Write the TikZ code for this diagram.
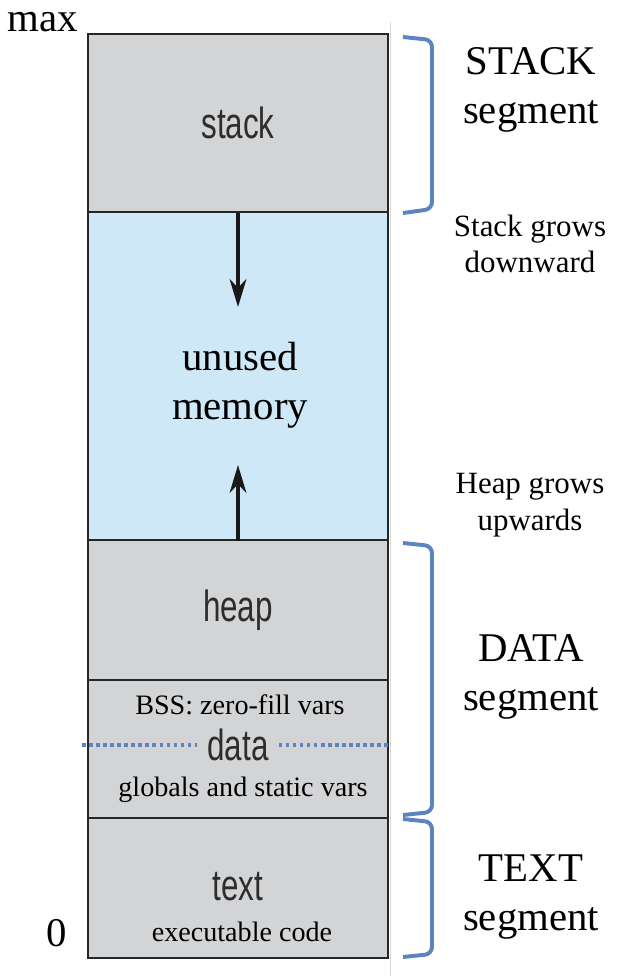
\documentclass[tikz,border=0pt]{standalone}
\usepackage{fontspec}
\setmainfont{Liberation Serif}
\newfontfamily\boxfont[FakeStretch=0.72]{Liberation Sans}
\usetikzlibrary{arrows.meta, positioning, calc}
\definecolor{cSegGray}{RGB}{211,212,214}
\definecolor{cUnused}{RGB}{207,232,247}
\definecolor{cBrace}{RGB}{92,132,192}
\definecolor{cLabel}{RGB}{45,45,45}
\tikzset{
	region/.style   ={rectangle, draw=black!85, line width=1.4pt, minimum width=7.5cm, inner sep=0pt, fill=cSegGray},
	boxlbl/.style   ={font=\boxfont\fontsize{31}{36}\selectfont, text=cLabel},
	notelbl/.style  ={font=\fontsize{20}{24}\selectfont, inner sep=0pt},
	seglbl/.style   ={font=\fontsize{29}{35}\selectfont, align=center, inner sep=0pt},
	growlbl/.style  ={font=\fontsize{22}{26}\selectfont, align=center, inner sep=0pt},
	growarrow/.style={-{Stealth[length=7mm, width=4.2mm, inset=2.2mm]}, line width=2.4pt, black!90},
	% segment brackets on the right
	segbrace/.style ={cBrace, line width=2.8pt, rounded corners=5pt},
	bssline/.style  ={cBrace, line width=2.2pt, dash pattern=on 2.5pt off 2.5pt},
}

\begin{document}
\begin{tikzpicture}[x=0.025cm, y=-0.025cm]
	\useasboundingbox (0,0) rectangle (620,976);
	\draw[black!15, line width=0.6pt] (390,22) -- (390,976);
	% memory regions, top to bottom
	\node[region, minimum height=4.45cm, boxlbl] (stack) at (238,123) {stack};
	\node[region, minimum height=8.2cm, fill=cUnused] (unused) at (238,376) {};
	\node[region, minimum height=3.5cm, boxlbl] (heap) at (238,610) {heap};
	\node[region, minimum height=3.45cm] (data) at (238,749) {};
	\node[region, minimum height=3.5cm] (text) at (238,888) {};
	\node[seglbl] (unusedlbl) at (240,385) {unused\\memory};
	% data region texts
	\node[notelbl] (bsslbl) at (240,705) {BSS: zero-fill vars};
	\node[boxlbl, inner xsep=0.25cm, inner ysep=0pt] (datalbl) at (238,745) {data};
	\node[notelbl] (globlbl) at (243,790) {globals and static vars};
	\draw[bssline] ([xshift=-0.12cm]data.west |- datalbl) -- (datalbl.west);
	\draw[bssline] (datalbl.east) -- (data.east |- datalbl);
	% text region texts
	\node[boxlbl, inner sep=0pt] (textlbl) at (238,887) {text};
	\node[notelbl] (execlbl) at (242,932) {executable code};
	% growth arrows
	\coordinate (downtip) at (238,307);
	\coordinate (uptip) at (238,465);
	\draw[growarrow] (stack.south) -- (downtip);
	\draw[growarrow] (unused.south) -- (uptip);
	% address ends
	\node[seglbl, anchor=base] (maxlbl) at (43,31) {max};
	\node[seglbl] (zerolbl) at (57,933) {0};
	% segment brackets and names
	\draw[segbrace] (403,37) -- (432,40) -- (432,209) -- (403,213);
	\draw[segbrace] (403,543) -- (432,546) -- (432,812) -- (403,815);
	\draw[segbrace] (403,819) -- (432,822) -- (432,954) -- (403,957);
	\node[seglbl] (stackseg) at (531,90) {STACK\\segment};
	\node[growlbl] (stackgrow) at (530,244) {Stack grows\\downward};
	\node[growlbl] (heapgrow) at (530,505) {Heap grows\\upwards};
	\node[seglbl] (dataseg) at (531,677) {DATA\\segment};
	\node[seglbl] (textseg) at (531,897) {TEXT\\segment};
\end{tikzpicture}
\end{document}
